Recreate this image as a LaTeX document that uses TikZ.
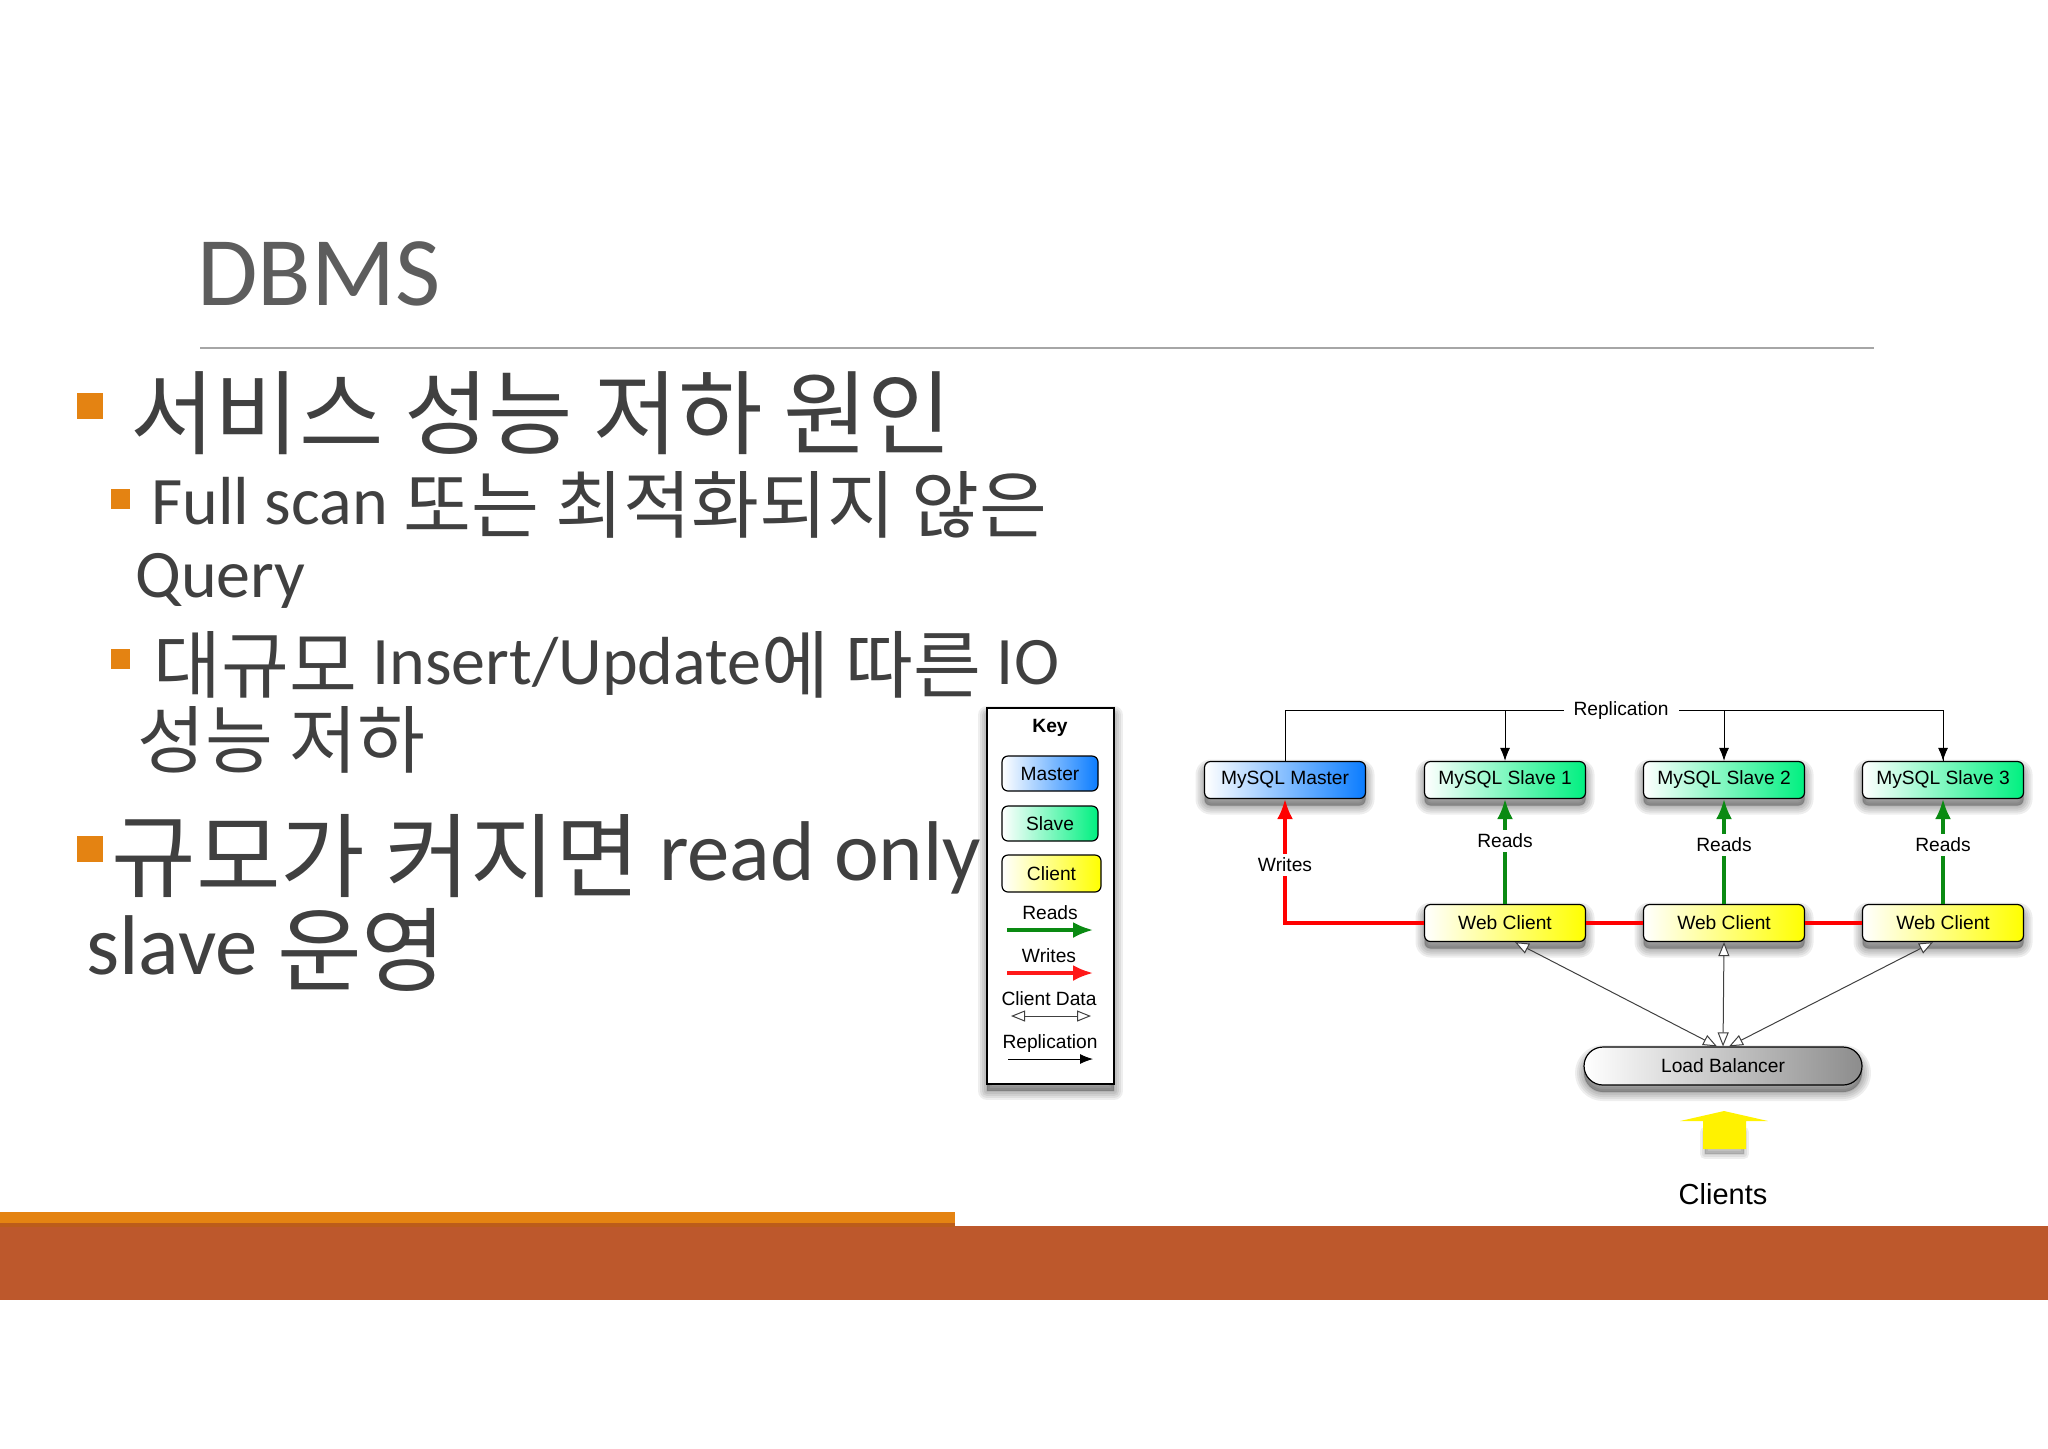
\documentclass[tikz,border=0pt]{standalone}
\usepackage{fontspec}
\setmainfont{Carlito}
\newfontfamily\kr[Scale=1.085]{Noto Sans CJK KR}
\newfontfamily\hv{Liberation Sans}
\newcommand{\krd}[1]{\raisebox{-.12em}{\kr #1}}
\usetikzlibrary{arrows.meta,shapes.misc}
\definecolor{txtgray}{HTML}{404040}
\definecolor{accent}{HTML}{E48312}
\definecolor{rust}{HTML}{BD582C}
\definecolor{rustdark}{HTML}{BB5C1A}
\definecolor{masterblue}{HTML}{0A7CFF}
\definecolor{slavegreen}{HTML}{00F080}
\definecolor{readgreen}{HTML}{0A8A12}
\tikzset{
	blurlayer/.style={preaction={draw=black,fill=black,opacity=.065,line width=#1,line join=round,transform canvas={yshift=-3.5pt}}},
	softshadow/.style={blurlayer=9pt,blurlayer=7pt,blurlayer=5pt,blurlayer=3pt,blurlayer=1pt},
	box/.style={draw=black,line width=.6pt,rounded corners=3pt,minimum width=80.5pt,minimum height=18.5pt,inner sep=0pt,font=\hv\fontsize{9.6}{11}\selectfont},
	masterbox/.style={box,left color=white,right color=masterblue},
	slavebox/.style={box,left color=white,right color=slavegreen},
	clientbox/.style={box,left color=white,right color=yellow},
	label/.style={font=\hv\fontsize{9.6}{11}\selectfont,inner sep=0pt},
	linelabel/.style={label,fill=white,inner ysep=2pt,inner xsep=0pt},
	readline/.style={draw=readgreen,line width=1.6pt,-{Latex[length=10pt,width=8pt]}},
	writeline/.style={draw=red,line width=1.6pt},
	dataline/.style={draw=black!75,line width=.5pt,{Triangle[fill=white,length=7pt,width=5.5pt]}-{Triangle[fill=white,length=7pt,width=5.5pt]}},
	replline/.style={draw=black,line width=.5pt,-{Latex[length=6.5pt,width=5pt]}},
	textline/.style={anchor=base west,inner sep=0pt,text=txtgray},
	sizeone/.style={textline,font=\fontsize{42.3}{50}\selectfont},
	sizetwo/.style={textline,font=\fontsize{34}{40}\selectfont},
	sizethree/.style={textline,font=\fontsize{42.4}{50}\selectfont},
	bulbig/.style={fill=accent,inner sep=0pt,minimum width=13pt,minimum height=13pt},
	bulsmall/.style={fill=accent,inner sep=0pt,minimum width=9.5pt,minimum height=10pt},
}
\begin{document}
\begin{tikzpicture}[x=.5pt,y=-.5pt]
	\useasboundingbox (0,0) rectangle (2048,1448);
	% slide
	\node[textline,text=txtgray!85,font=\fontsize{49.2}{50}\selectfont] at (197,305)(title){DBMS};
	\coordinate (rulea) at (200,348);
	\coordinate (ruleb) at (1874,348);
	\draw[draw=black!35,line width=.7pt] (rulea)--(ruleb);
	\node[bulbig] at (90,406)(bulone){};
	\node[sizeone] at (130,437)(lineone){\krd{서비스 성능 저하 원인}};
	\node[bulsmall] at (120.5,498.5)(bultwo){};
	\node[sizetwo] at (151,524)(linetwo){Full scan \krd{또는 최적화되지 않은}};
	\node[sizetwo] at (135,597)(linethree){Query};
	\node[bulsmall] at (120.5,659)(bulthree){};
	\node[sizetwo] at (153,684)(linefour){\krd{대규모} Insert/Update\krd{에 따른} IO};
	\node[sizetwo] at (137,759)(linefive){\krd{성능 저하}};
	\node[bulbig] at (90,849)(bulfour){};
	\node[sizethree] at (111,880)(linesix){\krd{규모가 커지면} read only};
	\node[sizethree] at (86,974)(lineseven){slave \krd{운영}};
	% bottom bars
	\node[fill=rust,inner sep=0pt,minimum width=1024pt,minimum height=37pt] at (1024,1263)(barlow){};
	\node[fill=rustdark,inner sep=0pt,minimum width=477.5pt,minimum height=2pt] at (477.5,1224.5)(barmid){};
	\node[fill=accent,inner sep=0pt,minimum width=477.5pt,minimum height=5.5pt] at (477.5,1217.5)(bartop){};
	% key
	\node[draw=black,line width=.8pt,fill=white,minimum width=63.5pt,minimum height=188pt,inner sep=0pt,softshadow] at (1050.5,896)(keybox){};
	\node[label,font=\hv\bfseries\fontsize{9.6}{11}\selectfont] at (1050,728)(keytitle){Key};
	\node[masterbox,minimum width=48pt,minimum height=17.5pt] at (1050,773.5)(keymaster){Master};
	\node[slavebox,minimum width=48pt,minimum height=17.5pt] at (1050,823.5)(keyslave){Slave};
	\node[clientbox,minimum width=49.5pt,minimum height=18.5pt] at (1051.5,873.5)(keyclient){Client};
	\node[label] at (1050,913)(keyreads){Reads};
	\node[label] at (1049,956)(keywrites){Writes};
	\node[label] at (1049,999)(keydata){Client Data};
	\node[label] at (1050,1044)(keyrepl){Replication};
	\coordinate (readsa) at (1007,930);
	\coordinate (readsb) at (1093,930);
	\coordinate (writesa) at (1007,973);
	\coordinate (writesb) at (1093,973);
	\coordinate (dataa) at (1011,1016);
	\coordinate (datab) at (1091,1016);
	\coordinate (repla) at (1008,1059);
	\coordinate (replb) at (1093,1059);
	\draw[readline] (readsa)--(readsb);
	\draw[writeline,-{Latex[length=10pt,width=8pt]},draw=red!90] (writesa)--(writesb);
	\draw[dataline] (dataa)--(datab);
	\draw[replline] (repla)--(replb);
	% nodes
	\node[masterbox,softshadow] at (1285,780)(master){MySQL Master};
	\node[slavebox,softshadow] at (1505,780)(slaveone){MySQL Slave 1};
	\node[slavebox,softshadow] at (1724,780)(slavetwo){MySQL Slave 2};
	\node[slavebox,softshadow] at (1943,780)(slavethree){MySQL Slave 3};
	\node[clientbox,softshadow] at (1505,923)(webone){Web Client};
	\node[clientbox,softshadow] at (1724,923)(webtwo){Web Client};
	\node[clientbox,softshadow] at (1943,923)(webthree){Web Client};
	\node[box,rounded rectangle,rounded corners=0pt,left color=white,right color=black!45,minimum width=139pt,minimum height=19pt,softshadow] at (1723,1066)(balancer){Load Balancer};
	\path[blurlayer=5pt,blurlayer=3pt,blurlayer=1pt] (1705,1125) rectangle (1744,1147);
	\fill[yellow] (1703,1149)--(1703,1121)--(1680,1121)--(1724,1111)--(1768,1121)--(1746,1121)--(1746,1149)--cycle;
	\node[label,font=\hv\fontsize{14.5}{16}\selectfont] at (1723,1194)(clients){Clients};
	% connectors
	\coordinate (replbus) at (1621,710);
	\draw[draw=black,line width=.5pt] (master.north)|-(replbus)-|(slavethree.north);
	\node[linelabel,inner xsep=5pt] at (1621,711)(repl){Replication};
	\draw (slaveone|-replbus)edge[replline](slaveone);
	\draw (slavetwo|-replbus)edge[replline](slavetwo);
	\draw (slavethree|-replbus)edge[replline](slavethree);
	\draw (webone)edge[readline]node[linelabel,pos=.6]{Reads}(slaveone);
	\draw (webtwo)edge[readline]node[linelabel,pos=.565]{Reads}(slavetwo);
	\draw (webthree)edge[readline]node[linelabel,pos=.565]{Reads}(slavethree);
	\draw[writeline,-{Latex[length=10pt,width=8pt]}] (webone.west)-|node[linelabel,pos=.735]{Writes}(master.south);
	\draw (webone)edge[writeline](webtwo);
	\draw (webtwo)edge[writeline](webthree);
	\draw ([xshift=-3pt]balancer.north)edge[dataline]([xshift=5pt]webone.south);
	\draw (balancer.north)edge[dataline](webtwo.south);
	\draw ([xshift=3pt]balancer.north)edge[dataline]([xshift=-5pt]webthree.south);
\end{tikzpicture}
\end{document}
